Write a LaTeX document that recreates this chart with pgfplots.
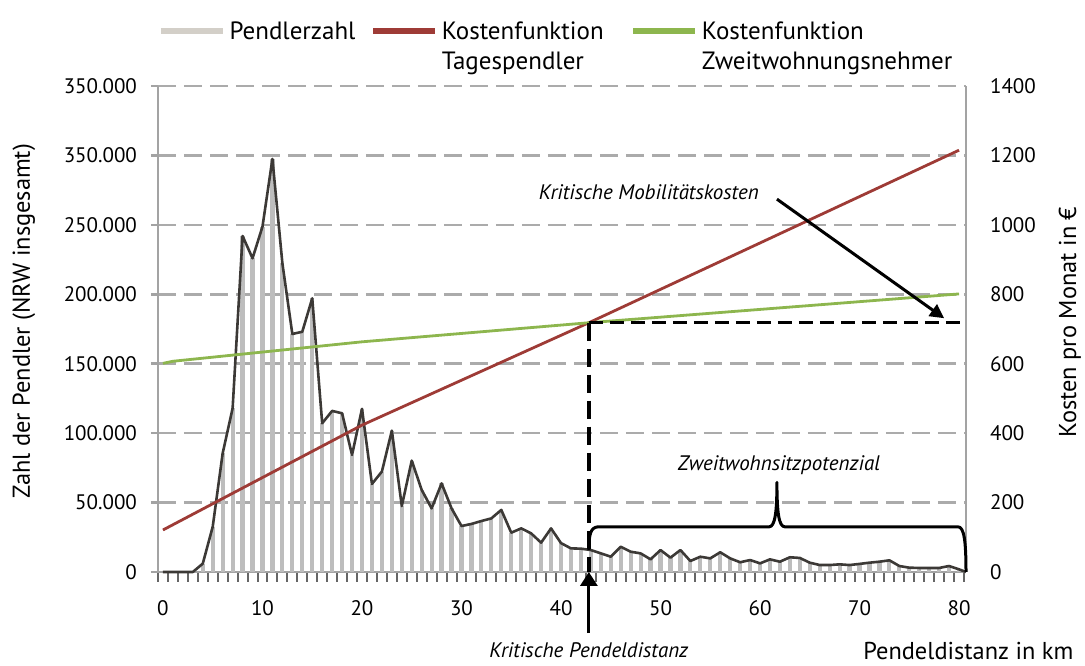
\documentclass[border=0pt]{standalone}
\usepackage{fontspec}
\setmainfont{PT Sans}
\usepackage{pgfplots}
\pgfplotsset{compat=1.18}
\usetikzlibrary{arrows.meta}
\definecolor{bargray}{HTML}{BDBDBD}
\definecolor{linegray}{HTML}{3C3936}
\definecolor{axisgray}{HTML}{A3A3A3}
\definecolor{gridgray}{HTML}{ABABAB}
\definecolor{legendgray}{HTML}{D3CFC8}
\definecolor{costred}{HTML}{9E3B36}
\definecolor{costgreen}{HTML}{8DB64E}
\pgfplotstableread{
x y
0 0
1 0
2 0
3 0
4 6000
5 32600
6 85500
7 117900
8 242000
9 225900
10 248700
11 297500
12 222300
13 171400
14 173000
15 197100
16 107100
17 116000
18 114300
19 84300
20 117500
21 63400
22 72300
23 101800
24 47500
25 80200
26 59100
27 45800
28 63800
29 45800
30 33100
31 34600
32 36700
33 38600
34 44700
35 28300
36 31400
37 27800
38 21100
39 31400
40 20800
41 17000
42 16800
43 15800
44 13400
45 11000
46 18200
47 14600
48 13400
49 9100
50 15800
51 10300
52 15800
53 7900
54 11000
55 9800
56 14200
57 9800
58 7000
59 8600
60 6200
61 9100
62 7400
63 10600
64 10100
65 6700
66 5000
67 5000
68 5500
69 5000
70 5800
71 6700
72 7400
73 8400
74 4300
75 3100
76 2900
77 2900
78 2900
79 4300
80 1900
}\pendler
\pgfplotstableread{
x y
0 121
20 423
42.8 718
80 1215
}\costred
\pgfplotstableread{
x y
0 601
1 607
20 663
42.8 718
80 801
}\costgreen
\begin{document}
\begin{tikzpicture}
\pgfplotsset{
  base/.style={
    scale only axis, width=404pt, height=243pt,
    xmin=-0.5, xmax=80.7,
    clip=false,
    axis line style={draw=axisgray, line width=1.4pt},
    tick label style={font=\fontsize{10.5}{12}\selectfont, text=black},
    label style={font=\fontsize{12.2}{14}\selectfont},
  }
}
\begin{axis}[base, name=ax1,
  ymin=0, ymax=350000,
  axis x line*=bottom, axis y line*=left,
  xtick={0,10,...,80},
  xticklabels={0,10,20,30,40,50,60,70,80},
  minor xtick={-0.5,0.5,...,80.5},
  major x tick style={draw=none},
  minor x tick style={draw=gray!80!black, line width=1pt},
  minor tick length=5pt,
  major tick length=3.5pt,
  tick align=outside,
  xtick pos=bottom, ytick pos=left,
  y tick style={draw=axisgray, line width=1.3pt},
  xticklabel style={yshift=-7pt},
  yticklabel style={xshift=-3.5pt},
  ytick={0,50000,...,350000},
  yticklabels={0,50.000,100.000,150.000,200.000,250.000,350.000,350.000},
  scaled y ticks=false,
  ymajorgrids,
  grid style={draw=gridgray, line width=1.3pt, dash pattern=on 9pt off 4pt},
  ylabel={Zahl der Pendler (NRW insgesamt)},
  y label style={at={(axis description cs:-0.166,0.516)}, anchor=center, rotate=0},
  xlabel={Pendeldistanz in km},
  x label style={at={(axis description cs:1.003,-0.163)}, anchor=center},
]
\addplot[ycomb, draw=bargray, line width=2.1pt] table[x=x,y=y] {\pendler};
\addplot[draw=linegray, line width=1.3pt, line join=round] table[x=x,y=y] {\pendler} -- (axis cs:80.7,0);
\node[font=\fontsize{10.5}{12}\selectfont\itshape, anchor=center] at (axis cs:42.8,-56200) {Kritische Pendeldistanz};
\draw[black, line width=1.6pt, -{Triangle[width=8.5pt,length=7pt]}] (axis cs:42.8,-44000) -- (axis cs:42.8,0);
\end{axis}
\begin{axis}[base,
  ymin=0, ymax=1400,
  axis y line*=right, axis x line=none,
  ytick={0,200,...,1400},
  yticklabels={0,200,400,600,800,1000,1200,1400},
  major tick length=0pt,
  yticklabel style={xshift=8.5pt},
  ylabel={Kosten pro Monat in €},
  y label style={at={(axis description cs:1.1287,0.514)}, anchor=center, rotate=0},
  legend columns=3,
  legend style={at={(axis description cs:0.0,1)}, anchor=south west, yshift=19.5pt,
    draw=none, fill=none, inner sep=0pt,
    font=\fontsize{12.5}{15}\selectfont,
    cells={anchor=base west},
    /tikz/every even column/.append style={column sep=0pt},
    /tikz/every odd column/.append style={column sep=0pt},
  },
  legend image code/.code={\draw[#1, line width=2.6pt] (0pt,4.3pt) -- (31pt,4.3pt);},
]
\addlegendimage{draw=legendgray}
\addlegendentry{\hbox to 68.5pt{Pendlerzahl\hfil}}
\addplot[draw=costred, line width=1.4pt] table[x=x,y=y] {\costred};
\addlegendentry{\vtop{\hbox to 92.5pt{Kostenfunktion\hfil}\hbox{Tagespendler}}}
\addplot[draw=costgreen, line width=1.4pt] table[x=x,y=y] {\costgreen};
\addlegendentry{\vtop{\hbox{Kostenfunktion}\hbox{Zweitwohnungsnehmer}}}
\draw[black, line width=1.7pt, dash pattern=on 9pt off 4pt] (axis cs:42.8,718) -- (axis cs:42.8,0);
\draw[black, line width=1.7pt, dash pattern=on 7pt off 3.5pt] (axis cs:42.8,718) -- (axis cs:80.7,718);
\draw[black, line width=1.5pt, line join=round]
  (axis cs:42.8,63) .. controls (axis cs:42.8,110) and (axis cs:43.0,128) .. (axis cs:43.7,130)
  -- (axis cs:60.9,130) .. controls (axis cs:61.5,130) and (axis cs:61.7,170) .. (axis cs:61.7,258)
  .. controls (axis cs:61.7,170) and (axis cs:61.9,130) .. (axis cs:62.5,130)
  -- (axis cs:79.9,130) .. controls (axis cs:80.5,130) and (axis cs:80.7,90) .. (axis cs:80.7,0);
\node[font=\fontsize{10.5}{12}\selectfont\itshape, anchor=center] at (axis cs:61.9,308) {Zweitwohnsitzpotenzial};
\node[font=\fontsize{10.5}{12}\selectfont\itshape, anchor=east] at (axis cs:60.6,1095) {Kritische Mobilitätskosten};
\draw[black, line width=1.5pt, -{Triangle[width=7pt,length=7pt]}] (axis cs:61.7,1074) -- (axis cs:78.5,731);
\end{axis}
\pgfresetboundingbox
\path[use as bounding box] ([xshift=-79pt,yshift=-47pt]ax1.south west) rectangle ([xshift=59.5pt,yshift=43pt]ax1.north east);
\end{tikzpicture}
\end{document}
